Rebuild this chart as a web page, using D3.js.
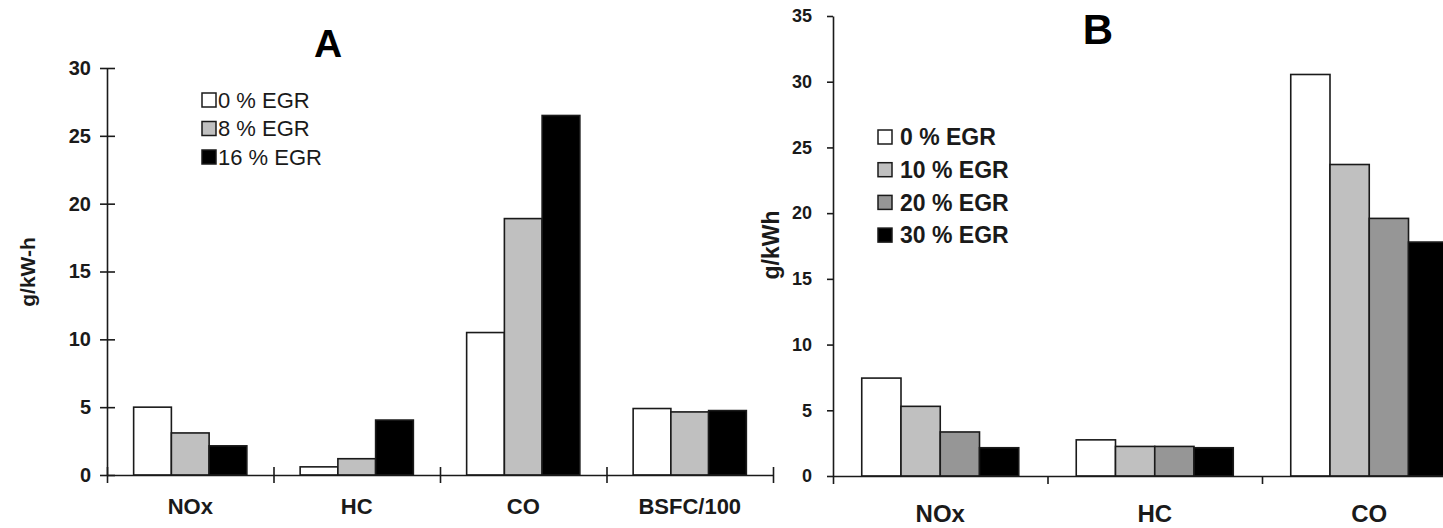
<!DOCTYPE html>
<html lang="en">
<head>
    <meta charset="UTF-8">
    <title>EGR emissions</title>
    <script src="https://d3js.org/d3.v7.min.js"></script>
    <style>
        html, body {
            margin: 0;
            padding: 0;
            background: #fff;
        }
        svg {
            display: block;
            font-family: "Liberation Sans", Arial, Helvetica, sans-serif;
        }
    </style>
</head>
<body>
<svg id="chart" width="1443" height="528"></svg>
<script>
    // panel A
    const categoriesA = ["NOx", "HC", "CO", "BSFC/100"];
    const seriesA = ["0 % EGR", "8 % EGR", "16 % EGR"];
    const valuesA = [
        [5.0, 0.6, 10.5, 4.9],
        [3.1, 1.2, 18.9, 4.65],
        [2.15, 4.05, 26.5, 4.75]
    ];
    const ticksA = [0, 5, 10, 15, 20, 25, 30];

    // panel B
    const categoriesB = ["NOx", "HC", "CO"];
    const seriesB = ["0 % EGR", "10 % EGR", "20 % EGR", "30 % EGR"];
    const valuesB = [
        [7.45, 2.75, 30.55],
        [5.3, 2.25, 23.7],
        [3.35, 2.25, 19.6],
        [2.15, 2.15, 17.8]
    ];
    const ticksB = [0, 5, 10, 15, 20, 25, 30, 35];

    const ink = "#1a1a1a";
    const svg = d3.select("#chart");

    function drawPanel(p) {
        const g = svg.append("g");

        const y = d3.scaleLinear()
            .domain([0, d3.max(p.ticks)])
            .range([p.y0, p.y1]);

        const x0 = d3.scaleBand()
            .domain(p.categories)
            .range([p.x0, p.x0 + p.step * p.categories.length])
            .paddingInner(p.pad)
            .paddingOuter(p.pad / 2);

        const x1 = d3.scaleBand()
            .domain(p.series)
            .range([0, x0.bandwidth()]);

        const fill = d3.scaleOrdinal().domain(p.series).range(p.fills);

        // bars
        g.append("g")
            .selectAll("g")
            .data(p.series)
            .join("g")
            .attr("fill", d => fill(d))
            .selectAll("rect")
            .data((s, i) => p.values[i].map((v, j) => ({s: s, v: v, c: p.categories[j]})))
            .join("rect")
            .attr("x", d => x0(d.c) + x1(d.s))
            .attr("y", d => y(d.v))
            .attr("width", x1.bandwidth())
            .attr("height", d => y(0) - y(d.v))
            .attr("stroke", ink)
            .attr("stroke-width", 1.6);

        // y axis
        const yAxis = g.append("g")
            .attr("transform", `translate(${p.x0},0)`)
            .call(d3.axisLeft(y)
                .tickValues(p.ticks)
                .tickSizeInner(p.tickOut)
                .tickSizeOuter(0)
                .tickPadding(p.tickPad));
        if (p.crossY) yAxis.selectAll(".tick line").attr("x1", p.tickIn);

        // x axis, ticks on the category borders
        const xb = d3.scaleLinear().domain([0, p.categories.length]).range(x0.range());
        const xAxis = g.append("g")
            .attr("transform", `translate(0,${p.y0})`)
            .call(d3.axisBottom(xb)
                .tickValues(d3.range(p.categories.length + 1))
                .tickFormat("")
                .tickSizeInner(8)
                .tickSizeOuter(0));
        if (p.crossX) xAxis.selectAll(".tick line").attr("y1", -8);

        g.selectAll(".domain, .tick line")
            .attr("stroke", ink)
            .attr("stroke-width", 1.6);
        yAxis.selectAll(".tick text")
            .attr("fill", ink)
            .attr("font-size", p.tickFont)
            .attr("font-weight", "bold")
            .attr("font-family", null);

        // category labels
        g.append("g")
            .selectAll("text")
            .data(p.categories)
            .join("text")
            .attr("x", d => x0(d) + x0.bandwidth() / 2)
            .attr("y", p.catY)
            .attr("text-anchor", "middle")
            .attr("font-size", p.catFont)
            .attr("font-weight", "bold")
            .attr("fill", ink)
            .text(d => d);

        // y label
        g.append("text")
            .attr("transform", `translate(${p.ylabX},${p.ylabY}) rotate(-90)`)
            .attr("dy", "0.35em")
            .attr("text-anchor", "middle")
            .attr("font-size", p.ylabFont)
            .attr("font-weight", "bold")
            .attr("fill", ink)
            .text(p.ylabel);

        // title
        g.append("text")
            .attr("x", p.titleX)
            .attr("y", p.titleY)
            .attr("text-anchor", "middle")
            .attr("font-size", p.titleFont)
            .attr("font-weight", "bold")
            .attr("fill", "#000")
            .text(p.title);

        // legend
        const leg = g.append("g")
            .selectAll("g")
            .data(p.series)
            .join("g")
            .attr("transform", (d, i) => `translate(${p.legX},${p.legY + i * p.legStep})`);
        leg.append("rect")
            .attr("x", 0)
            .attr("y", -7)
            .attr("width", 14)
            .attr("height", 14)
            .attr("fill", d => fill(d))
            .attr("stroke", ink)
            .attr("stroke-width", 1.5);
        leg.append("text")
            .attr("x", p.legText)
            .attr("dy", "0.36em")
            .attr("font-size", p.legFont)
            .attr("font-weight", p.legWeight)
            .attr("fill", ink)
            .text(d => d);
    }

    drawPanel({
        categories: categoriesA, series: seriesA, values: valuesA, ticks: ticksA,
        fills: ["#ffffff", "#c0c0c0", "#000000"],
        x0: 107, step: 166.5, pad: 0.32, y0: 475, y1: 68,
        tickOut: 7, tickIn: 8, tickPad: 9, tickFont: 20, crossY: true, crossX: true,
        catY: 514, catFont: 22,
        ylabel: "g/kW-h", ylabX: 28, ylabY: 272, ylabFont: 21,
        title: "A", titleX: 328, titleY: 57, titleFont: 39,
        legX: 202, legY: 100, legStep: 28.5, legText: 16, legFont: 22, legWeight: "normal"
    });

    drawPanel({
        categories: categoriesB, series: seriesB, values: valuesB, ticks: ticksB,
        fills: ["#ffffff", "#c0c0c0", "#969696", "#000000"],
        x0: 833, step: 214.5, pad: 0.268, y0: 476, y1: 16,
        tickOut: 6, tickIn: 0, tickPad: 15, tickFont: 18, crossY: false, crossX: false,
        catY: 522, catFont: 24,
        ylabel: "g/kWh", ylabX: 771, ylabY: 245, ylabFont: 23,
        title: "B", titleX: 1098, titleY: 44, titleFont: 42,
        legX: 878, legY: 137, legStep: 32.7, legText: 22, legFont: 23, legWeight: "bold"
    });
</script>
</body>
</html>
